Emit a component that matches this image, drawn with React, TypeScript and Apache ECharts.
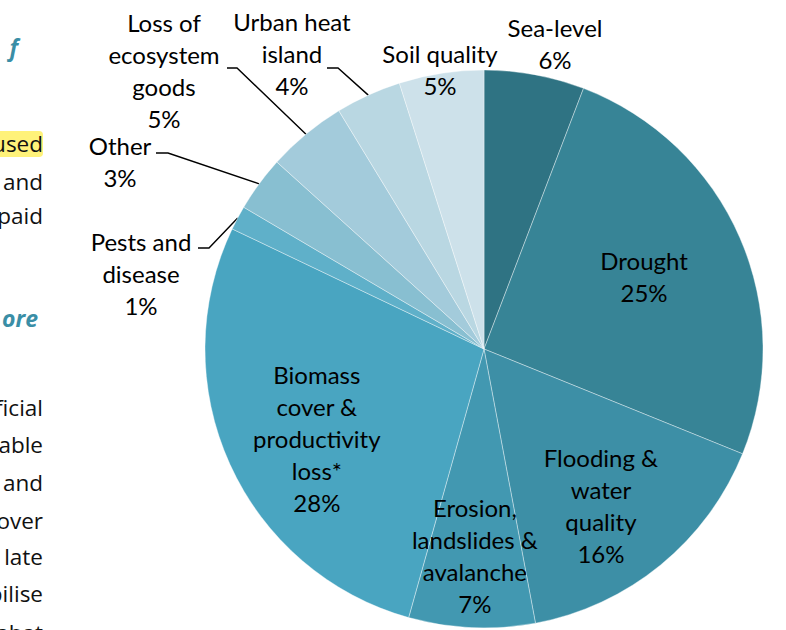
import React, { useEffect, useRef } from "react";
import * as echarts from "echarts";

// Data (share of impacts; labels show rounded %)
const categories = [
  "Sea-level",
  "Drought",
  "Flooding &\nwater\nquality",
  "Erosion,\nlandslides &\navalanche",
  "Biomass\ncover &\nproductivity\nloss*",
  "Pests and\ndisease",
  "Other",
  "Loss of\necosystem\ngoods",
  "Urban heat\nisland",
  "Soil quality",
];
const values = [5.8, 25.3, 15.9, 7.3, 27.7, 1.4, 3.2, 4.6, 3.8, 4.9];
const colors = [
  "#2f7383",
  "#378496",
  "#3d8fa6",
  "#4298b1",
  "#49a5c1",
  "#5fb0c9",
  "#88bfd1",
  "#a3cbdb",
  "#b9d7e2",
  "#cde1ea",
];

// Left-side document text fragments (cropped page context)
const sideWords = [
  { t: "used", y: 143 },
  { t: "and", y: 181 },
  { t: "paid", y: 215 },
  { t: "ficial", y: 407 },
  { t: "able", y: 444 },
  { t: "and", y: 482 },
  { t: "over", y: 520 },
  { t: "late", y: 556 },
  { t: "bilise", y: 593 },
  { t: "habat", y: 632 },
];

// Layout (not data): pie geometry and label placement
const CX = 484;
const CY = 349;
const R = 279;
type Place =
  | { kind: "in"; rf: number; da: number }
  | { kind: "out"; x: number; y: number; elbow?: [number, number]; end?: [number, number] };
const places: Place[] = [
  { kind: "out", x: 555, y: 43 },
  { kind: "in", rf: 0.63, da: -0.9 },
  { kind: "in", rf: 0.7, da: 2.5 },
  { kind: "in", rf: 0.74, da: 0 },
  { kind: "in", rf: 0.68, da: -3.8 },
  { kind: "out", x: 141, y: 273, elbow: [209, 248], end: [198, 248] },
  { kind: "out", x: 120, y: 161, elbow: [168, 153], end: [156, 153] },
  { kind: "out", x: 164, y: 70, elbow: [237, 68], end: [227, 68] },
  { kind: "out", x: 292, y: 53, elbow: [338, 68], end: [327, 68] },
  { kind: "out", x: 440, y: 69 },
];

export default function App() {
  const ref = useRef<HTMLDivElement>(null);
  useEffect(() => {
    if (!ref.current) return;
    const chart = echarts.init(ref.current, undefined, { renderer: "svg" });
    const total = values.reduce((a, b) => a + b, 0);
    const mids: number[] = [];
    let acc = 0;
    values.forEach((v) => {
      mids.push(((acc + v / 2) / total) * 360);
      acc += v;
    });
    const pt = (deg: number, r: number) => {
      const a = (deg * Math.PI) / 180;
      return [CX + r * Math.sin(a), CY - r * Math.cos(a)];
    };

    const font = "Lato, 'Noto Sans', sans-serif";
    const sideFont = "22.5px 'Open Sans', 'Noto Sans', sans-serif";
    const graphics: any[] = [
      {
        type: "rect",
        shape: { x: -4, y: 131, width: 47, height: 26, r: 4 },
        style: { fill: "#fff27a" },
        silent: true,
      },
      {
        type: "text",
        x: 18,
        y: 47,
        style: {
          text: "f",
          font: "italic bold 23px 'Open Sans', 'Noto Sans', sans-serif",
          fill: "#3a8ea6",
          textAlign: "right",
          textVerticalAlign: "middle",
        },
      },
      {
        type: "text",
        x: 38,
        y: 318,
        style: {
          text: "ore",
          font: "italic bold 23px 'Open Sans', 'Noto Sans', sans-serif",
          fill: "#3a8ea6",
          textAlign: "right",
          textVerticalAlign: "middle",
        },
      },
      ...sideWords.map((w) => ({
        type: "text",
        x: 43,
        y: w.y,
        style: {
          text: w.t,
          font: sideFont,
          fill: "#111",
          textAlign: "right",
          textVerticalAlign: "middle",
        },
      })),
    ];

    chart.setOption({
      animation: false,
      backgroundColor: "#ffffff",
      graphic: graphics,
      series: [
        {
          type: "pie",
          center: [CX, CY],
          radius: R,
          startAngle: 90,
          clockwise: true,
          avoidLabelOverlap: false,
          itemStyle: { borderColor: "rgba(255,255,255,0.55)", borderWidth: 0.7 },
          label: {
            show: true,
            position: "outside",
            color: "#000",
            fontFamily: font,
            fontSize: 24,
            lineHeight: 32,
            align: "center",
            formatter: (p: any) => `${p.name}\n${Math.round(p.value)}%`,
          },
          labelLine: {
            show: false,
            lineStyle: { color: "#000", width: 1.4 },
          },
          labelLayout: (params: any) => {
            const i = params.dataIndex;
            const pl = places[i];
            if (pl.kind === "in") {
              const [x, y] = pt(mids[i] + pl.da, pl.rf * R);
              return { x, y, align: "center", verticalAlign: "middle" };
            }
            const res: any = { x: pl.x, y: pl.y, align: "center", verticalAlign: "middle" };
            if (pl.elbow && pl.end) {
              const edge = pt(mids[i], R);
              res.labelLinePoints = [edge, pl.elbow, pl.end];
            }
            return res;
          },
          data: categories.map((name, i) => ({
            name,
            value: values[i],
            itemStyle: { color: colors[i] },
            labelLine: { show: !!(places[i] as any).elbow },
          })),
        },
      ],
    });
    return () => chart.dispose();
  }, []);
  return (
    <div
      ref={ref}
      style={{ position: "fixed", left: 0, top: 0, width: 786, height: 630 }}
    />
  );
}
